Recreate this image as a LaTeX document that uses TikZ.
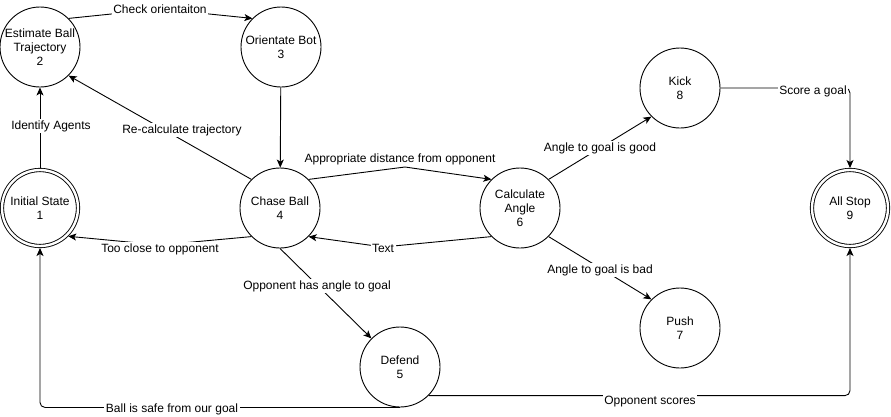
\documentclass[tikz,border=0pt]{standalone}
\usepackage{fontspec}
\setmainfont{Liberation Sans}
\usetikzlibrary{arrows.meta}
\begin{document}
\begin{tikzpicture}[x=1pt,y=-1pt,
  state/.style={circle,draw,line width=0.9pt,minimum size=80pt,inner sep=0pt,align=center,font=\fontsize{12}{14}\selectfont},
  final/.style={circle,draw,line width=0.9pt,double,double distance=2.4pt,minimum size=76pt,inner sep=0pt,outer sep=2pt,align=center,font=\fontsize{12}{14}\selectfont},
  lbl/.style={fill=white,inner sep=1.5pt,font=\fontsize{12}{14}\selectfont},
  tr/.style={draw,line width=0.9pt,-{Stealth[length=8pt,width=7pt,inset=2pt]}}
]
\useasboundingbox (0,0) rectangle (891,416);

\node[state] (n2) at (40,47) {Estimate Ball\\Trajectory\\2};
\node[state] (n3) at (281,47) {Orientate Bot\\3};
\node[final] (n1) at (40,208) {Initial State\\1};
\node[state] (n4) at (280,208) {Chase Ball\\4};
\node[state] (n5) at (400,367) {Defend\\5};
\node[state] (n6) at (520,208) {Calculate\\Angle\\6};
\node[state] (n8) at (680,88) {Kick\\8};
\node[state] (n7) at (680,328) {Push\\7};
\node[final] (n9) at (850,208) {All Stop\\9};

\coordinate (w23) at (160,9);
\coordinate (w46) at (405,167);
\coordinate (w64) at (383,247);
\coordinate (w41) at (160,245);

\draw[tr] (n2.45) -- (w23) -- (n3.135);
\node[lbl] (l23) at (160,9) {Check orientaiton};

\draw[tr] (n1) -- (n2);
\node[lbl] (l12) at (51,126) {Identify Agents};

\draw[tr] (n4.135) -- (n2.-45);
\node[lbl] (l42) at (182,130) {Re-calculate trajectory};

\draw[tr] (n3) -- (n4);

\draw[tr] (n4.45) -- (w46) -- (n6.135);
\node[lbl] (l46) at (400,159) {Appropriate distance from opponent};

\draw[tr] (n6.225) -- (w64) -- (n4.-45);
\node[lbl] (l64) at (383,248) {Text};

\draw[tr] (n4.225) -- (w41) -- (n1.-45);
\node[lbl] (l41) at (160,249) {Too close to opponent};

\draw[tr] (n4.south) -- (n5.135);
\node[lbl] (l45) at (317,286) {Opponent has angle to goal};

\draw[tr,rounded corners=5pt] (n5.south) -| (n1.south);
\node[lbl] (l51) at (172,409) {Ball is safe from our goal};

\draw[tr,rounded corners=5pt] (n5.-45) -| (n9.south);
\node[lbl] (l59) at (650,402) {Opponent scores};

\draw[tr] (n6.45) -- (n8.225);
\node[lbl] (l68) at (600,148) {Angle to goal is good};

\draw[tr] (n6.-45) -- (n7.135);
\node[lbl] (l67) at (600,270) {Angle to goal is bad};

\draw[tr,rounded corners=5pt] (n8.east) -| (n9.north);
\node[lbl] (l89) at (813,91) {Score a goal};
\end{tikzpicture}
\end{document}
